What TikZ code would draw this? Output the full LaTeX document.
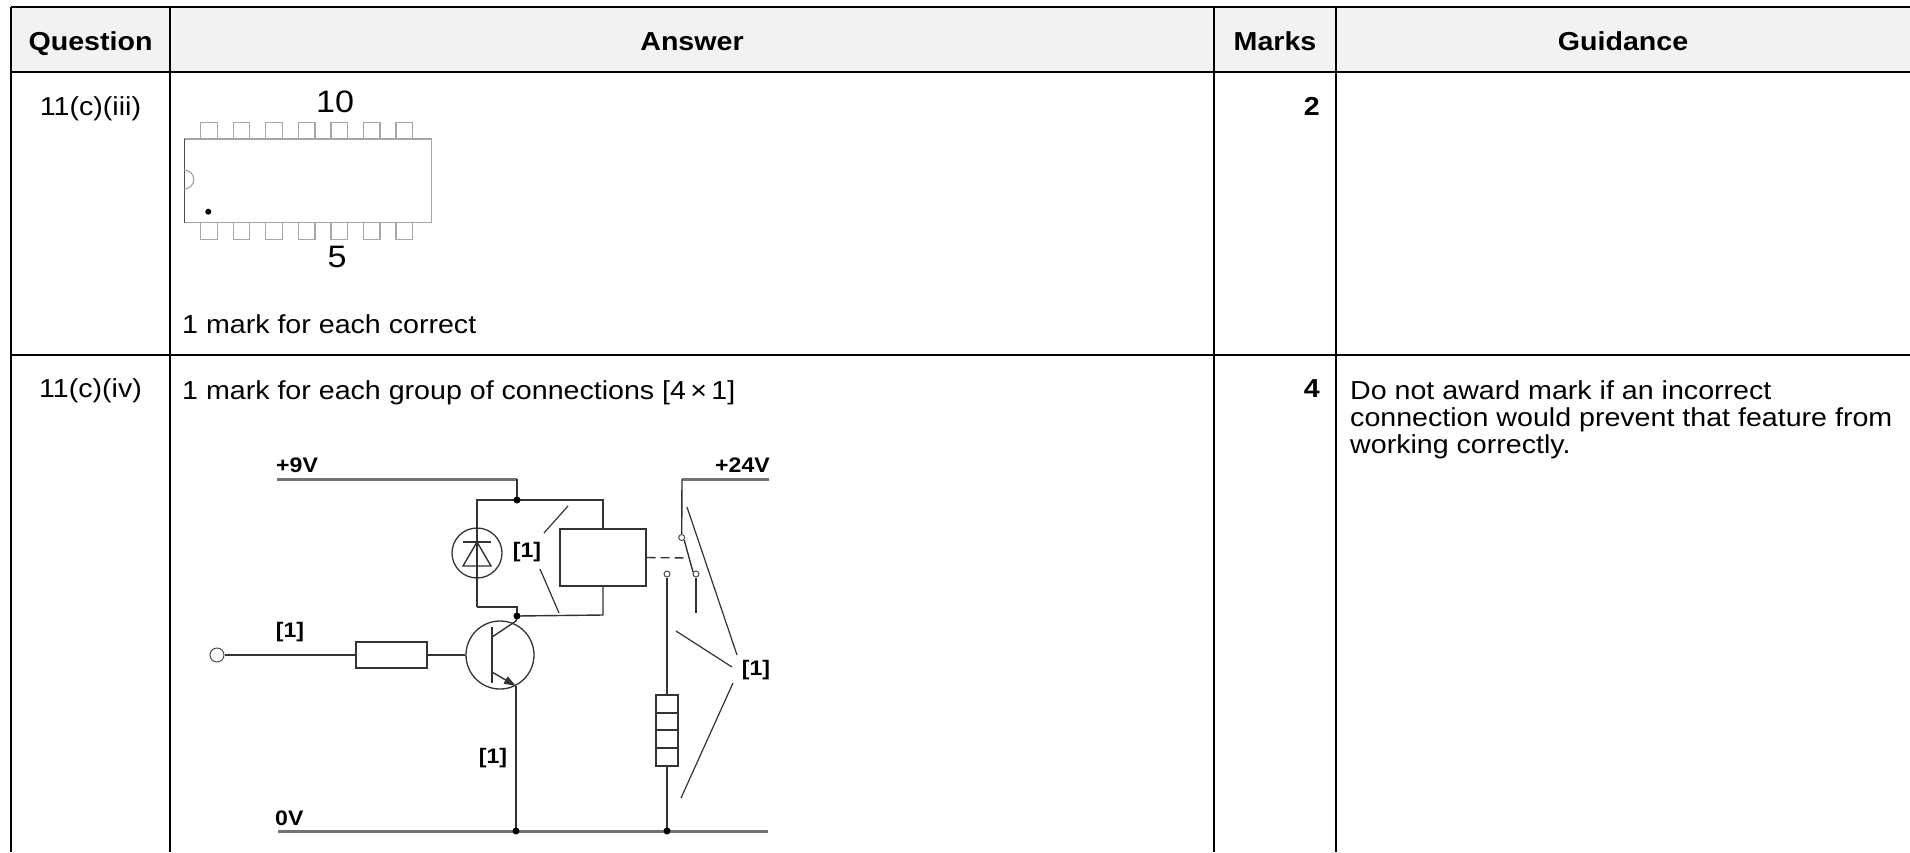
\documentclass[tikz,border=0pt]{standalone}
\usepackage{fontspec}
\setmainfont{Liberation Sans}[FakeStretch=1.1]
\usetikzlibrary{arrows.meta}
\begin{document}
\begin{tikzpicture}[x=1pt,y=-1pt,
  grid/.style={line width=2pt,draw=black},
  hdr/.style={font=\fontsize{26}{27}\selectfont\bfseries,inner sep=0pt},
  body/.style={font=\fontsize{26}{27}\selectfont,inner sep=0pt},
  pinnum/.style={font=\fontsize{31}{31}\selectfont,inner sep=0pt},
  wire/.style={line width=1.4pt,draw=black!80},
  rail/.style={line width=3pt,draw=black!55},
  chip/.style={line width=1.2pt,draw=black!35},
  lead/.style={line width=1.2pt,draw=black!80},
  lbl/.style={font=\fontsize{21}{21}\selectfont\bfseries,inner sep=0pt},
  dotj/.style={circle,fill=black,draw=none,inner sep=0pt,minimum size=7pt},
  term/.style={circle,fill=white,draw=black!70,line width=1pt,inner sep=0pt,minimum size=#1},
]
\useasboundingbox (0,0) rectangle (1910,852);
% ---------- table ----------
\fill[black!5] (11,7) rectangle (1910,72);
\draw[grid] (11,7) -- (1910,7);
\draw[line width=2.6pt] (11,72) -- (1910,72);
\draw[grid] (11,355) -- (1910,355);
\foreach \xx in {11,170,1214,1336} \draw[grid] (\xx,7) -- (\xx,852);

\node[hdr,anchor=base] (hq) at (90.5,50) {Question};
\node[hdr,anchor=base] (ha) at (692,50) {Answer};
\node[hdr,anchor=base] (hm) at (1275,50) {Marks};
\node[hdr,anchor=base] (hg) at (1623,50) {Guidance};

\node[body,anchor=base] (q1) at (90.5,115) {11(c)(iii)};
\node[hdr,anchor=base east] (m1) at (1320,115) {2};
\node[body,anchor=base west] (a1) at (182,333) {1 mark for each correct};

\node[body,anchor=base] (q2) at (90.5,397) {11(c)(iv)};
\node[hdr,anchor=base east] (m2) at (1320,397) {4};
\node[body,anchor=base west] (a2) at (182,399) {1 mark for each group of connections [4\,×\,1]};
\node[body,anchor=base west] (g1) at (1350,399) {Do not award mark if an incorrect};
\node[body,anchor=base west] (g2) at (1350,426) {connection would prevent that feature from};
\node[body,anchor=base west] (g3) at (1350,453) {working correctly.};

% ---------- chip ----------
\node[pinnum] (n10) at (335,102) {10};
\node[pinnum] (n5) at (337,257) {5};
\foreach \k in {0,...,6} {
  \draw[chip] ({200.7+32.55*\k},122.7) rectangle ++(16.6,16.6);
  \draw[chip] ({200.7+32.55*\k},222.7) rectangle ++(16.6,16.6);
}
\draw[chip,fill=white] (184.3,139) rectangle (431.7,222.7);
\draw[line width=1.3pt,draw=black!70] (184.3,139) -- (184.3,222.7);
\draw[chip] (184.3,170) arc[start angle=-90,end angle=90,radius=9.5];
\fill[black] (208.3,211.7) circle[radius=3];

% ---------- circuit ----------
\coordinate (r9a) at (277,479);
\coordinate (j9) at (517,479);
\coordinate (r24a) at (682,479);
\coordinate (r24b) at (769,479);
\coordinate (r0a) at (278,831);
\coordinate (r0b) at (768,831);
\draw[rail] (r9a) -- (j9);
\draw[rail] (r24a) -- (r24b);
\draw[rail] (r0a) -- (r0b);
\node[lbl,anchor=base west] (l9) at (276,472) {+9V};
\node[lbl,anchor=base east] (l24) at (770,472) {+24V};
\node[lbl,anchor=base west] (l0) at (275,825) {0V};

% diode / relay loop
\coordinate (jt) at (517,500);
\coordinate (jb) at (517,616);
\draw[wire] (j9) -- (jt);
\draw[wire] (477,607) -- (477,500) -- (603,500) -- (603,529);
\draw[wire] (477,607) -- (517,607) -- (jb);
\draw[wire] (jb) -- (603,615) -- (603,586);
\node[circle,draw=black!80,line width=1.3pt,minimum size=50pt,inner sep=0pt] (dio) at (477,553) {};
\draw[wire] (463,566) -- (491,566) -- (477,542) -- cycle;
\draw[wire] (463,542) -- (491,542);
\node[draw=black!80,line width=1.4pt,minimum width=86pt,minimum height=57pt,inner sep=0pt] (relay) at (603,557.5) {};
\node[lbl] (ld) at (527,552) {[1]};
\draw[lead] (544,533) -- (568,506);
\draw[lead] (540,569) -- (559,613);

% switch
\node[term=6pt] (piv) at (681.7,537.5) {};
\node[term=6pt] (cno) at (667,574) {};
\node[term=6pt] (cnc) at (696,574) {};
\draw[wire] (r24a) -- (piv.north);
\draw[wire] (piv.south east) -- (693,572);
\draw[wire,dashed,dash pattern=on 9pt off 5pt] (relay.east) -- (687,558);
\draw[wire] (cnc.south) -- (696,613);

% lamp branch
\node[draw=black!80,line width=1.3pt,minimum width=22pt,minimum height=71pt,inner sep=0pt] (lamp) at (667,730.5) {};
\draw[wire] (656,713) -- (678,713);
\draw[wire] (656,730) -- (678,730);
\draw[wire] (656,748) -- (678,748);
\draw[wire] (cno.south) -- (lamp.north);
\coordinate (j0b) at (667,831);
\draw[wire] (lamp.south) -- (j0b);

% right [1] label
\node[lbl] (lr) at (756,670) {[1]};
\draw[lead] (687,507) -- (737,655);
\draw[lead] (676,631) -- (732,667);
\draw[lead] (733,683) -- (681,798);

% input, resistor, transistor
\node[term=14pt] (inp) at (217,655) {};
\node[draw=black!80,line width=1.3pt,minimum width=71pt,minimum height=26pt,inner sep=0pt] (rb) at (391.5,655) {};
\node[circle,draw=black!80,line width=1.3pt,minimum size=68pt,inner sep=0pt] (tr) at (500,655) {};
\draw[wire] (inp.east) -- (rb.west);
\draw[wire] (rb.east) -- (tr.west);
\draw[wire] (492,627) -- (492,683);
\draw[wire] (492,637) -- (516,621) -- (jb);
\draw[wire,-{Triangle[length=12pt,width=8pt]}] (492,672) -- (516,686);
\coordinate (j0a) at (516,831);
\draw[wire] (516,686) -- (j0a);
\node[lbl] (li) at (290,632) {[1]};
\node[lbl] (le) at (493,758) {[1]};

% junction dots
\foreach \p in {jt,jb,j0a,j0b} \node[dotj] at (\p) {};
\end{tikzpicture}
\end{document}
